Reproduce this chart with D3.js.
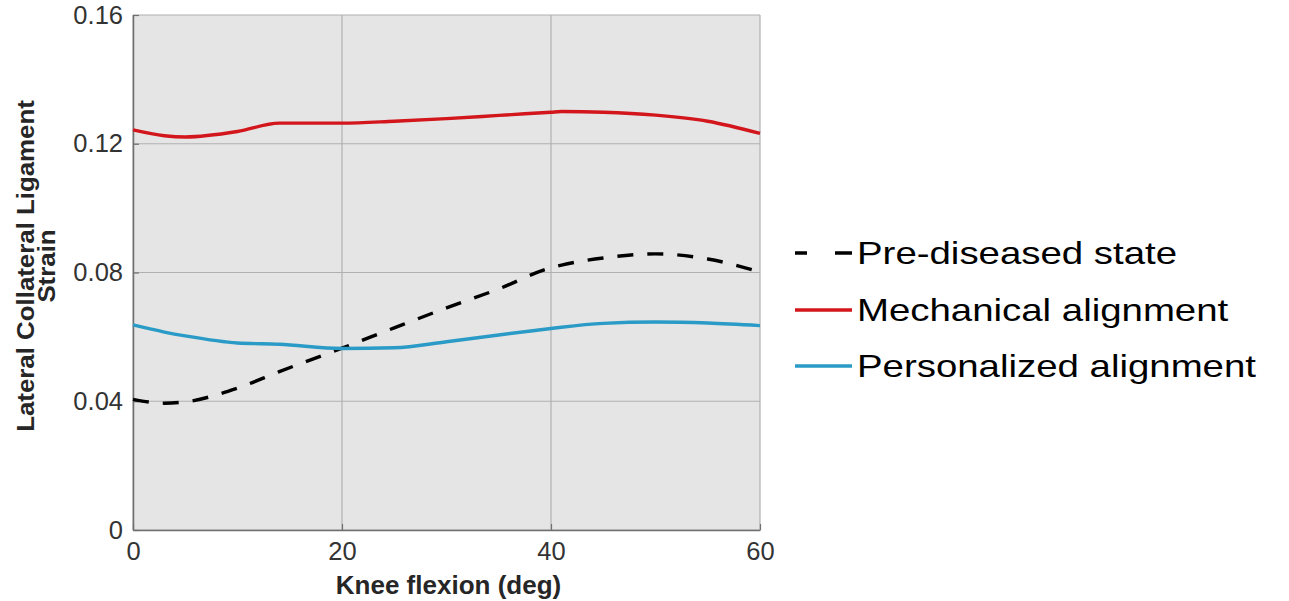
<!DOCTYPE html>
<html><head><meta charset="utf-8">
<script src="https://cdn.jsdelivr.net/npm/d3@7"></script>
<style>body{margin:0;background:#fff}svg{display:block;font-family:"Liberation Sans",Arial,sans-serif}</style>
</head><body><svg id="c" width="1289" height="601"></svg>
<script>
const flexion = [0, 3, 5, 10, 14, 20, 25, 30, 35, 40, 41, 45, 50, 55, 60];
const preDiseased = [0.0406, 0.0394, 0.0398, 0.0441, 0.0492, 0.0565, 0.0628, 0.0690, 0.0749, 0.0815, 0.0823, 0.0845, 0.0858, 0.0842, 0.0802];
const mechanical = [0.1243, 0.1225, 0.1221, 0.1238, 0.1264, 0.1264, 0.1270, 0.1278, 0.1288, 0.1298, 0.1300, 0.1298, 0.1289, 0.1270, 0.1232];
const personalized = [0.0637, 0.0615, 0.0603, 0.0581, 0.0577, 0.0564, 0.0566, 0.0585, 0.0606, 0.0626, 0.0630, 0.0642, 0.0646, 0.0643, 0.0635];
const xTicks = [0, 20, 40, 60];
const yTicks = [0, 0.04, 0.08, 0.12, 0.16];
const yTickLabels = ["0", "0.04", "0.08", "0.12", "0.16"];
const seriesNames = ["Pre-diseased state", "Mechanical alignment", "Personalized alignment"];
const seriesColors = ["#000000", "#d2161b", "#2a9bc6"];

const svg = d3.select("#c");
const L = 133, R = 760, T = 15, B = 530;
const x = d3.scaleLinear().domain([0, 60]).range([L, R]);
const y = d3.scaleLinear().domain([0, 0.16]).range([B, T]);

svg.append("rect").attr("x", L).attr("y", T).attr("width", R - L).attr("height", B - T).attr("fill", "#e5e5e5");

// grid
svg.append("g").selectAll("line").data(xTicks).join("line")
  .attr("x1", d => x(d)).attr("x2", d => x(d)).attr("y1", T).attr("y2", B)
  .attr("stroke", "#b0b0b0").attr("stroke-width", 1.2);
svg.append("g").selectAll("line").data(yTicks).join("line")
  .attr("x1", L).attr("x2", R).attr("y1", d => y(d)).attr("y2", d => y(d))
  .attr("stroke", "#b0b0b0").attr("stroke-width", 1.2);

// axes
const yAxis = d3.axisLeft(y).tickValues(yTicks).tickFormat((d, i) => yTickLabels[i]).tickSizeInner(-6).tickSizeOuter(0).tickPadding(10);
const gy = svg.append("g").attr("transform", `translate(${L},0)`).call(yAxis);
gy.select(".domain").attr("stroke", "#707070").attr("stroke-width", 1.5);
gy.selectAll(".tick line").attr("stroke", "#707070").attr("stroke-width", 1.2);
gy.selectAll("text").attr("font-size", 25.5).attr("fill", "#333").attr("font-family", "Liberation Sans, Arial, sans-serif");

const xAxis = d3.axisBottom(x).tickValues(xTicks).tickFormat(d3.format("d")).tickSizeInner(-6).tickSizeOuter(0).tickPadding(12);
const gx = svg.append("g").attr("transform", `translate(0,${B})`).call(xAxis);
gx.select(".domain").attr("stroke", "#707070").attr("stroke-width", 1.5);
gx.selectAll(".tick line").attr("stroke", "#707070").attr("stroke-width", 1.2);
gx.selectAll("text").attr("font-size", 25.5).attr("fill", "#333").attr("font-family", "Liberation Sans, Arial, sans-serif");

// lines
const line = d3.line().x((d, i) => x(flexion[i])).y(d => y(d)).curve(d3.curveMonotoneX);
const data = [preDiseased, mechanical, personalized];
data.forEach((s, k) => {
  svg.append("path").datum(s).attr("d", line).attr("fill", "none")
    .attr("stroke", seriesColors[k]).attr("stroke-width", 3.4)
    .attr("stroke-dasharray", k === 0 ? "16,14" : null);
});

// axis labels
svg.append("text").attr("x", (L + R) / 2 + 2).attr("y", 594).attr("text-anchor", "middle")
  .attr("font-size", 26).attr("font-weight", "bold").attr("fill", "#262626").text("Knee flexion (deg)");
const yl = svg.append("text").attr("transform", `translate(34,${266}) rotate(-90) scale(1.1,1)`)
  .attr("text-anchor", "middle").attr("font-size", 23.5).attr("font-weight", "bold").attr("fill", "#262626");
yl.append("tspan").attr("x", 0).attr("dy", 0).text("Lateral Collateral Ligament");
yl.append("tspan").attr("x", 0).attr("dy", 21).text("Strain");

// legend
const ly = [253, 310, 366];
seriesNames.forEach((n, k) => {
  svg.append("line").attr("x1", 795).attr("x2", 852).attr("y1", ly[k]).attr("y2", ly[k])
    .attr("stroke", seriesColors[k]).attr("stroke-width", 3.4)
    .attr("stroke-dasharray", k === 0 ? "12,28,17" : null);
  svg.append("text").attr("transform", `translate(857,${ly[k] + 11}) scale(1.2,1)`)
    .attr("font-size", 32).attr("fill", "#000").text(n);
});
</script></body></html>
